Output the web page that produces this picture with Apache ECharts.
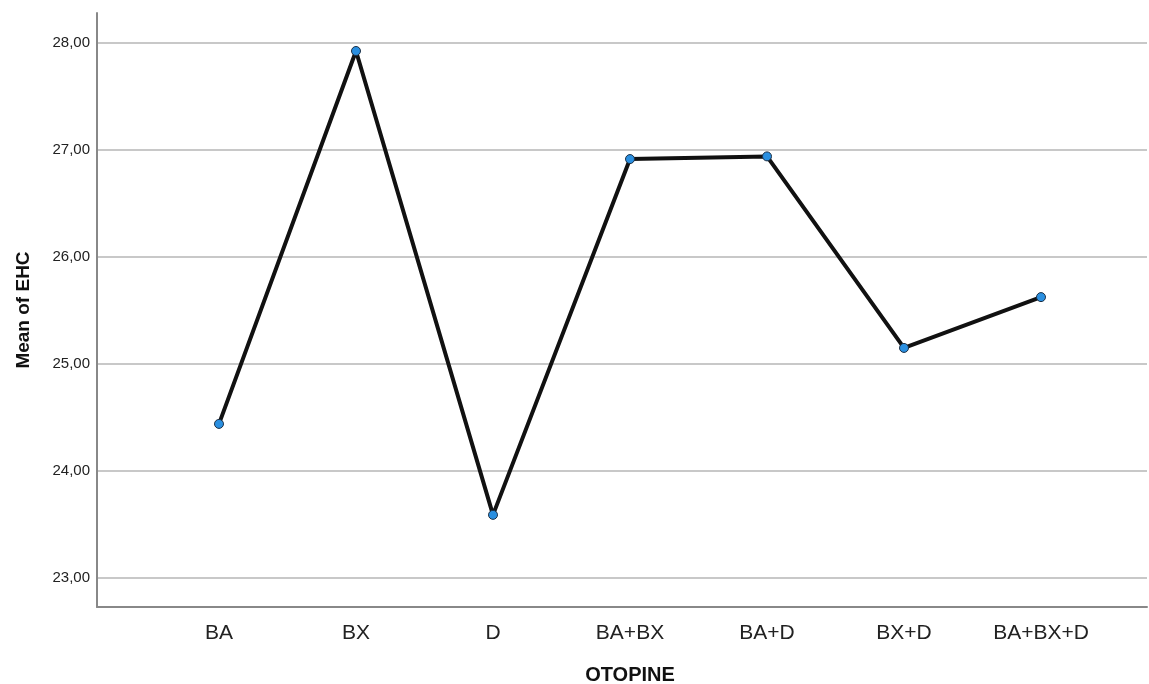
<!DOCTYPE html>
<html><head><meta charset="utf-8">
<script src="https://cdn.jsdelivr.net/npm/echarts@6/dist/echarts.min.js"></script>
<style>html,body{margin:0;padding:0;background:#fff}#c{width:1149px;height:684px}</style>
</head><body><div id="c"></div>
<script>
const categories = ['BA', 'BX', 'D', 'BA+BX', 'BA+D', 'BX+D', 'BA+BX+D'];
const meanEHC = [24.44, 27.925, 23.59, 26.915, 26.94, 25.15, 25.625];
const yTicks = [23, 24, 25, 26, 27, 28];
const yMin = 22.729, yMax = 28.28;

const chart = echarts.init(document.getElementById('c'));
const font = 'Arial, "Liberation Sans", sans-serif';
chart.setOption({
  animation: false,
  grid: [
    {left: 97, right: 2, top: 13, bottom: 77, containLabel: false, outerBoundsMode: 'none'},
    {left: 150.5, right: 39.5, top: 13, bottom: 77, containLabel: false, outerBoundsMode: 'none'}
  ],
  xAxis: [
    {gridIndex: 0, type: 'value', min: 0, max: 1, axisLine: {show: true, lineStyle: {color: '#888', width: 2}},
     axisTick: {show: false}, axisLabel: {show: false}, splitLine: {show: false}},
    {gridIndex: 1, type: 'category', data: categories, boundaryGap: true,
     axisLine: {show: false}, axisTick: {show: false}, splitLine: {show: false},
     axisLabel: {color: '#222', fontFamily: font, fontSize: 21, margin: 16},
     name: 'OTOPINE', nameLocation: 'middle', nameGap: 58,
     nameTextStyle: {fontFamily: font, fontSize: 20, fontWeight: 'bold', color: '#111'}}
  ],
  yAxis: [
    {gridIndex: 0, type: 'value', min: yMin, max: yMax,
     axisLine: {show: true, lineStyle: {color: '#888', width: 2}},
     axisTick: {show: false, customValues: yTicks},
     axisLabel: {customValues: yTicks, color: '#222', fontFamily: font, fontSize: 15, margin: 7,
       formatter: v => v.toFixed(2).replace('.', ',')},
     splitLine: {show: true, lineStyle: {color: '#c8c8c8', width: 2}},
     name: 'Mean of EHC', nameLocation: 'middle', nameGap: 64,
     nameTextStyle: {fontFamily: font, fontSize: 19, fontWeight: 'bold', color: '#111'}},
    {gridIndex: 1, type: 'value', min: yMin, max: yMax, show: false, splitLine: {show: false}}
  ],
  series: [{
    type: 'line', xAxisIndex: 1, yAxisIndex: 1, data: meanEHC,
    lineStyle: {color: '#111', width: 4},
    symbol: 'circle', symbolSize: 9,
    itemStyle: {color: '#2a8fe0', borderColor: '#1b2f45', borderWidth: 1}
  }]
});
</script></body></html>
